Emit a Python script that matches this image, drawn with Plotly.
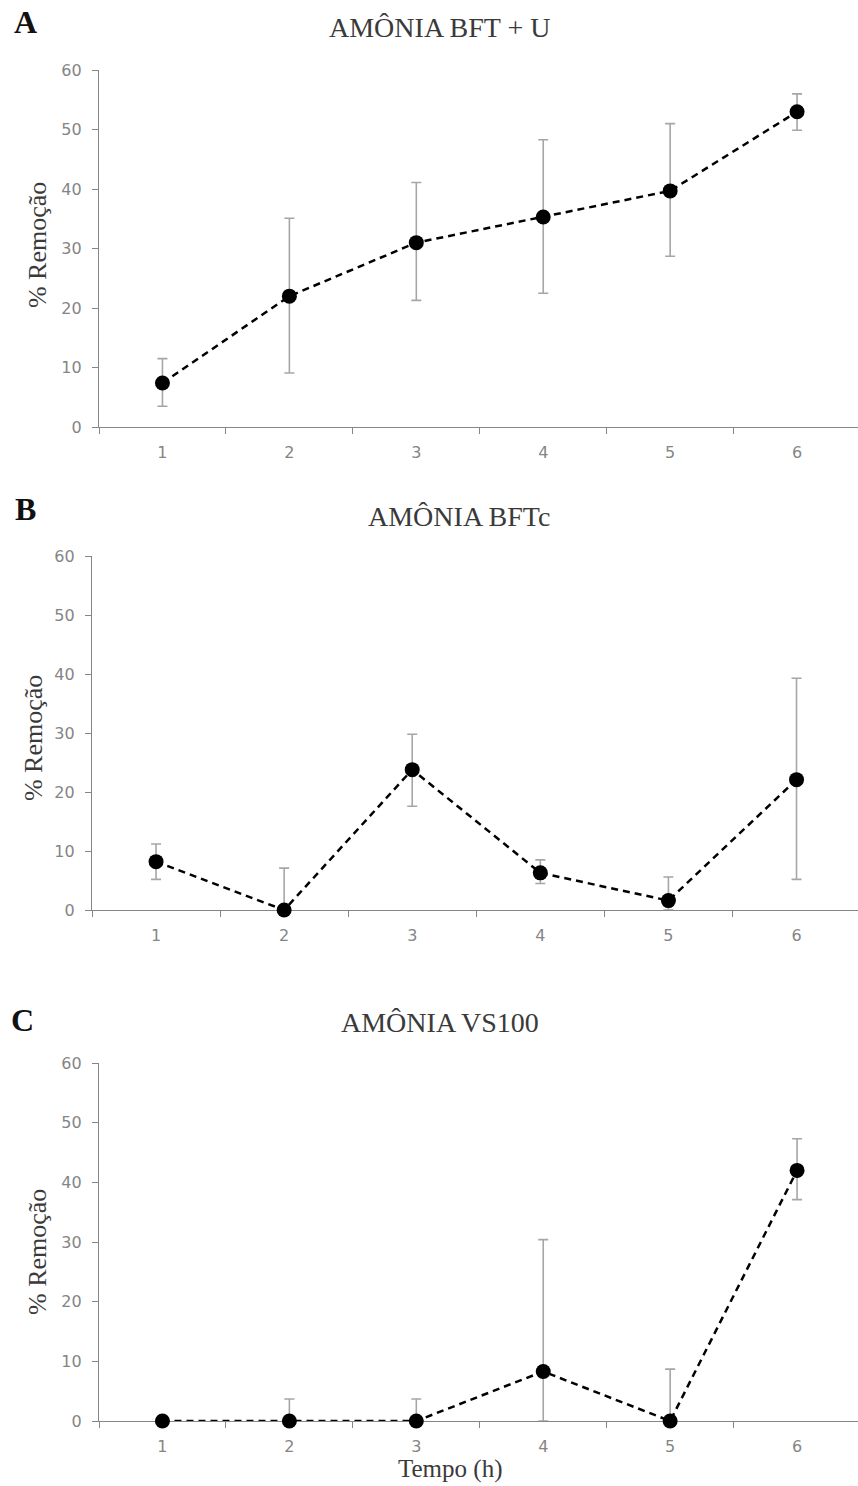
import plotly.graph_objects as go

W, H = 858, 1486
HF = 1500  # figure height in page pixels (screen capture maps page rows slightly compressed)

tempo = ["1", "2", "3", "4", "5", "6"]
y_ticks = [0, 10, 20, 30, 40, 50, 60]

titles = ["AMÔNIA BFT + U", "AMÔNIA BFTc", "AMÔNIA VS100"]
letters = ["A", "B", "C"]

A_mean = [7.4, 22.0, 31.0, 35.3, 39.7, 53.0]
A_upper = [11.5, 35.1, 41.1, 48.3, 51.0, 56.0]
A_lower = [3.5, 9.1, 21.3, 22.5, 28.7, 49.9]

B_mean = [8.2, 0.0, 23.8, 6.3, 1.6, 22.1]
B_upper = [11.2, 7.1, 29.8, 8.5, 5.6, 39.3]
B_lower = [5.2, 0.0, 17.6, 4.5, 0.0, 5.2]

C_mean = [0.0, 0.0, 0.0, 8.3, 0.0, 42.0]
C_upper = [0.0, 3.7, 3.7, 30.4, 8.7, 47.3]
C_lower = [0.0, 0.0, 0.0, 0.0, 0.0, 37.1]

series = [(A_mean, A_upper, A_lower), (B_mean, B_upper, B_lower), (C_mean, C_upper, C_lower)]


def py(t):
    # map a target pixel row to page coords (compensates observed vertical scaling)
    return (t - 8.9) / 0.9874


def yp(t):
    return 1 - py(t) / HF


# panel pixel geometry: (left, top, bottom)
geo = [(99, 70, 427), (92, 556, 910), (99, 1063, 1421)]
title_pos = [(440, 27), (459, 516), (440, 1022)]
letter_pos = [(25, 22), (25, 509), (22, 1020)]
ytitle_pos = [(37, 245), (33, 738), (37, 1252)]

AX = "#868686"
TICKC = "#858585"

fig = go.Figure()
annotations = []
for i, (mean, up, lo) in enumerate(series):
    n = "" if i == 0 else str(i + 1)
    err_p = [u - m for u, m in zip(up, mean)]
    err_m = [m - l for m, l in zip(mean, lo)]
    fig.add_trace(go.Scatter(
        x=tempo, y=mean, mode="lines+markers",
        xaxis="x" + n, yaxis="y" + n,
        line=dict(color="black", width=2.5, dash="7px,5px"),
        marker=dict(color="black", size=15),
        error_y=dict(type="data", symmetric=False, array=err_p, arrayminus=err_m,
                     color="#a6a6a6", thickness=1.6, width=5),
        cliponaxis=False, showlegend=False,
    ))
    left, top, bottom = geo[i]
    xd = [left / W, 1.0]
    yd = [yp(bottom), yp(top)]
    fig.update_layout(**{
        "xaxis" + n: dict(domain=xd, anchor="y" + n, type="category",
                          range=[-0.5, 5.48], tickson="boundaries",
                          showline=True, linecolor=AX, linewidth=1.3,
                          ticks="outside", tickcolor=AX, ticklen=6, tickwidth=1.3,
                          showgrid=False, zeroline=False, layer="below traces",
                          tickfont=dict(family="DejaVu Sans", size=16, color=TICKC),
                          ticklabelstandoff=11, fixedrange=True),
        "yaxis" + n: dict(domain=yd, anchor="x" + n, range=[0, 60],
                          tickvals=y_ticks,
                          showline=True, linecolor=AX, linewidth=1.3,
                          ticks="outside", tickcolor=AX, ticklen=6, tickwidth=1.3,
                          showgrid=False, zeroline=False, layer="below traces",
                          tickfont=dict(family="DejaVu Sans", size=16, color=TICKC),
                          ticklabelstandoff=7, fixedrange=True),
    })
    tx, ty = title_pos[i]
    annotations.append(dict(x=tx / W, y=yp(ty), xref="paper", yref="paper",
                            text=titles[i], showarrow=False, xanchor="center", yanchor="middle",
                            font=dict(family="Liberation Serif", size=28, color="#3a3a3a")))
    lx, ly = letter_pos[i]
    annotations.append(dict(x=lx / W, y=yp(ly), xref="paper", yref="paper",
                            text="<b>" + letters[i] + "</b>", showarrow=False,
                            xanchor="center", yanchor="middle",
                            font=dict(family="Liberation Serif", size=32, color="#111111")))
    yx, yy = ytitle_pos[i]
    annotations.append(dict(x=yx / W, y=yp(yy), xref="paper", yref="paper",
                            text="% Remoção", showarrow=False, textangle=-90,
                            xanchor="center", yanchor="middle",
                            font=dict(family="Liberation Serif", size=26, color="#3a3a3a")))

annotations.append(dict(x=450 / W, y=yp(1469), xref="paper", yref="paper",
                        text="Tempo (h)", showarrow=False, xanchor="center", yanchor="middle",
                        font=dict(family="Liberation Serif", size=25, color="#3a3a3a")))

fig.update_layout(width=W, height=HF, margin=dict(l=0, r=0, t=0, b=0),
                  paper_bgcolor="white", plot_bgcolor="white",
                  annotations=annotations)

fig.write_html("out.html", config={"displayModeBar": False},
               post_script="document.body.style.margin='0';document.body.style.overflow='hidden';")
